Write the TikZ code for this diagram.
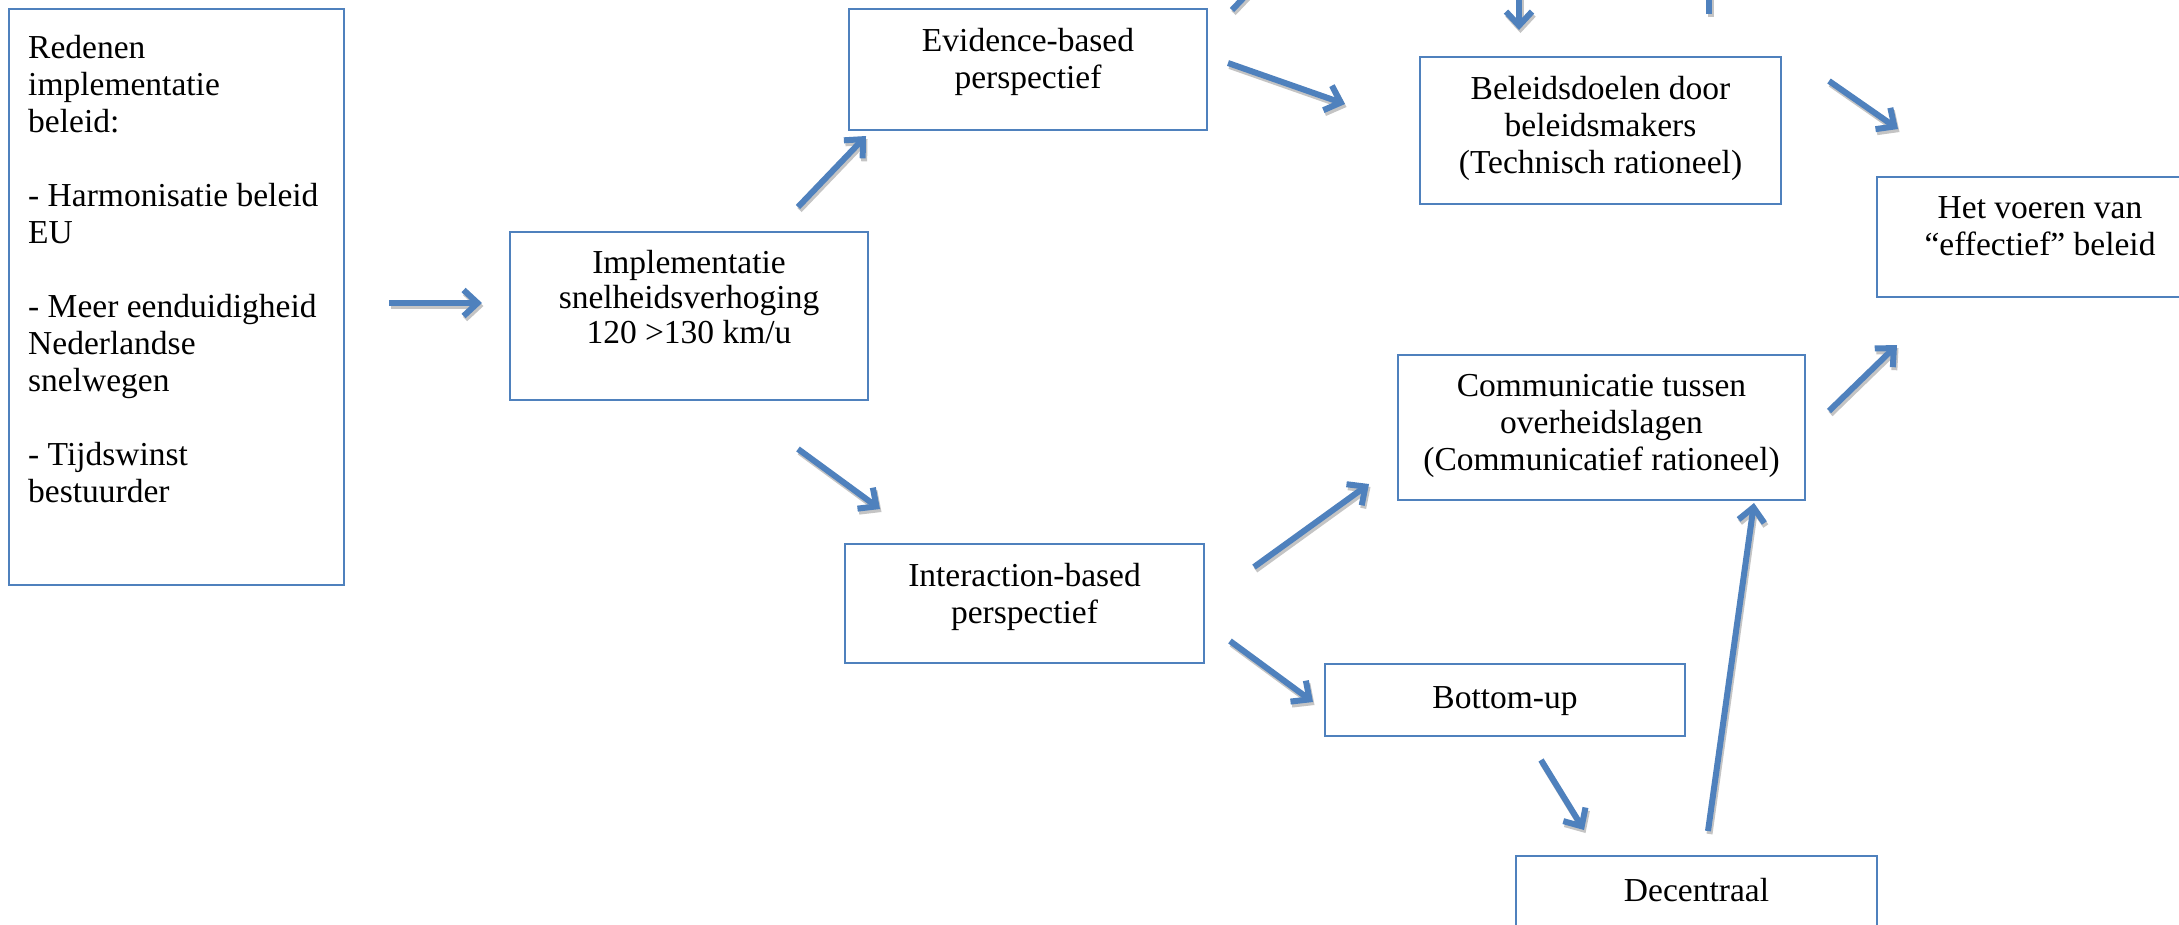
\documentclass[tikz,border=0pt]{standalone}
\usepackage{fontspec}
\setmainfont{Liberation Serif}
\usetikzlibrary{arrows.meta}
\definecolor{boxblue}{HTML}{4F81BD}
\definecolor{arrblue}{HTML}{4F81BD}
\definecolor{shadowgray}{HTML}{C4C4C4}
\tikzset{
  box/.style={draw=boxblue, line width=2pt, inner sep=0pt, anchor=north west},
  txt/.style={inner sep=0pt, anchor=north, align=center, font=\fontsize{33.5}{37}\selectfont, execute at begin node=\strut},
  flowtip/.style={-{Straight Barb[length=14pt,width=26pt]}, line width=6pt, line join=miter},
  flowmain/.style={flowtip, draw=arrblue},
  flowshadow/.style={flowtip, draw=shadowgray, transform canvas={shift={(1.5pt,-3pt)}}},
}
\newcommand\flowarrow[2]{\draw[flowshadow] (#1) -- (#2); \draw[flowmain] (#1) -- (#2);}
\begin{document}
\begin{tikzpicture}[x=1pt,y=-1pt]
\useasboundingbox (0,0) rectangle (2179,924);
\clip (0,0) rectangle (2179,924);
\fill[white] (0,0) rectangle (2179,924);
% boxes
\node[box, minimum width=335pt, minimum height=576pt] (reden) at (8,8) {};
\node[box, minimum width=358pt, minimum height=168pt] (impl) at (509,231) {};
\node[box, minimum width=358pt, minimum height=121pt] (evid) at (848,8) {};
\node[box, minimum width=361pt, minimum height=147pt] (bel) at (1419,56) {};
\node[box, minimum width=340pt, minimum height=120pt] (het) at (1876,176) {};
\node[box, minimum width=407pt, minimum height=145pt] (comm) at (1397,354) {};
\node[box, minimum width=359pt, minimum height=119pt] (inter) at (844,543) {};
\node[box, minimum width=360pt, minimum height=72pt] (bu) at (1324,663) {};
\node[box, minimum width=361pt, minimum height=120pt] (dec) at (1515,855) {};
% texts
\node[txt, anchor=north west, align=left] (redenT) at (28,35) {Redenen\\implementatie\\beleid:\\[37pt]- Harmonisatie beleid\\EU\\[37pt]- Meer eenduidigheid\\Nederlandse\\snelwegen\\[37pt]- Tijdswinst\\bestuurder};
\node[txt, font=\fontsize{33.5}{35}\selectfont] (implT) at ([yshift=-19pt]impl.north) {Implementatie\\snelheidsverhoging\\120 >130 km/u};
\node[txt] (evidT) at ([yshift=-20pt]evid.north) {Evidence-based\\perspectief};
\node[txt] (belT) at ([yshift=-20pt]bel.north) {Beleidsdoelen door\\beleidsmakers\\(Technisch rationeel)};
\node[txt] (hetT) at ([xshift=-7pt,yshift=-20pt]het.north) {Het voeren van\\“effectief” beleid};
\node[txt] (commT) at ([yshift=-20pt]comm.north) {Communicatie tussen\\overheidslagen\\(Communicatief rationeel)};
\node[txt] (interT) at ([yshift=-20pt]inter.north) {Interaction-based\\perspectief};
\node[txt] (buT) at ([yshift=-19pt]bu.north) {Bottom-up};
\node[txt] (decT) at ([yshift=-20pt]dec.north) {Decentraal};
% arrow end points
\coordinate (a1s) at (389,303); \coordinate (a1e) at (482,303);
\coordinate (a2s) at (798,207); \coordinate (a2e) at (866,136);
\coordinate (a3s) at (798,449); \coordinate (a3e) at (880,509);
\coordinate (a4s) at (1228,63); \coordinate (a4e) at (1345,104);
\coordinate (a5s) at (1232,10); \coordinate (a5e) at (1272,-32);
\coordinate (a6s) at (1519,-40); \coordinate (a6e) at (1519,30);
\coordinate (a7s) at (1709,14); \coordinate (a7e) at (1709,-50);
\coordinate (a8s) at (1829,81); \coordinate (a8e) at (1898,129);
\coordinate (a9s) at (1829,411); \coordinate (a9e) at (1897,345);
\coordinate (a10s) at (1254,567); \coordinate (a10e) at (1369,484);
\coordinate (a11s) at (1230,641); \coordinate (a11e) at (1313,702);
\coordinate (a12s) at (1541,760); \coordinate (a12e) at (1584,830);
\coordinate (a13s) at (1708,831); \coordinate (a13e) at (1754,503);
\flowarrow{a1s}{a1e}
\flowarrow{a2s}{a2e}
\flowarrow{a3s}{a3e}
\flowarrow{a4s}{a4e}
\flowarrow{a5s}{a5e}
\flowarrow{a6s}{a6e}
\flowarrow{a7s}{a7e}
\flowarrow{a8s}{a8e}
\flowarrow{a9s}{a9e}
\flowarrow{a10s}{a10e}
\flowarrow{a11s}{a11e}
\flowarrow{a12s}{a12e}
\flowarrow{a13s}{a13e}
\end{tikzpicture}
\end{document}
